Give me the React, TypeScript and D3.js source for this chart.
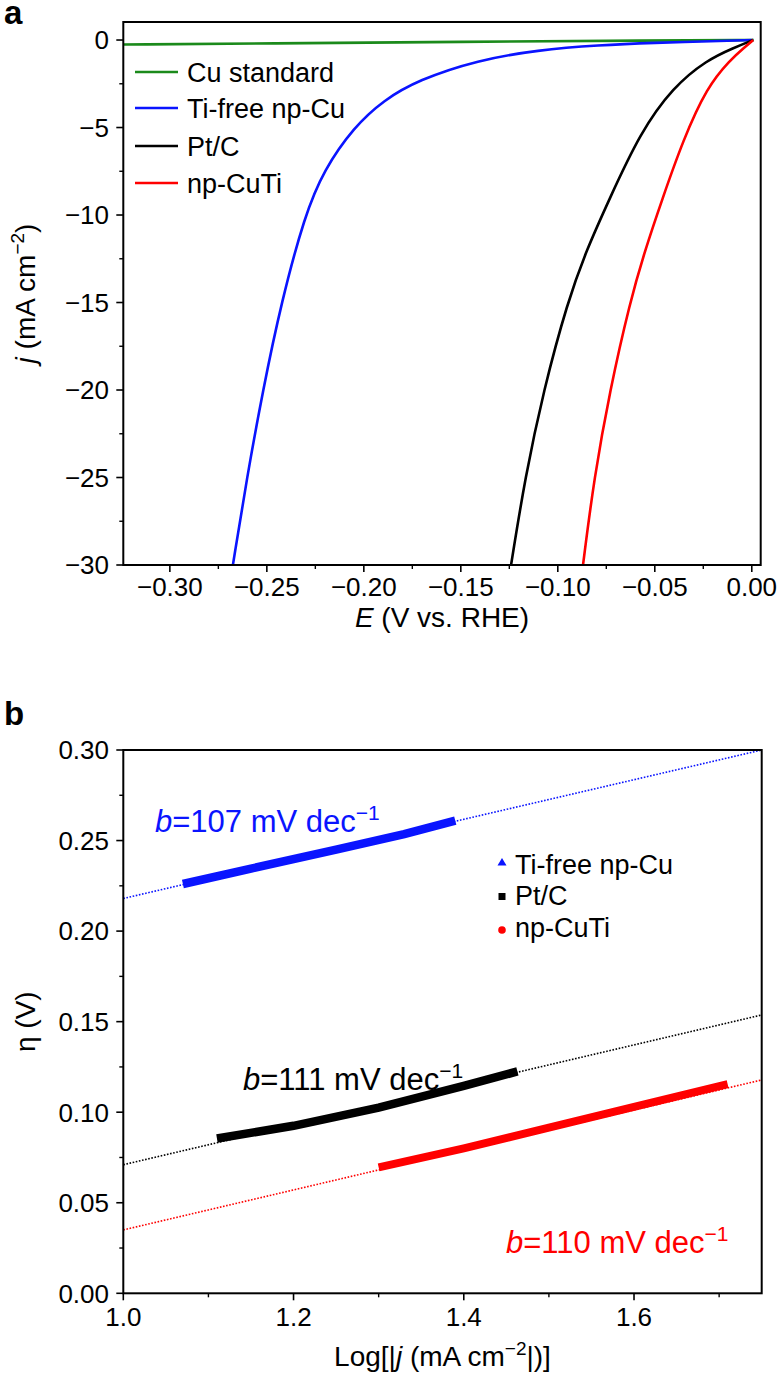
import React from 'react';
import * as d3 from 'd3';

const W = 781;
const H = 1384;
const FONT = '"Liberation Sans", Arial, Helvetica, sans-serif';

// ---------- Panel a data (E in V vs RHE, j in mA cm^-2) ----------
const cuStdE = [-0.324, -0.25, -0.15, -0.05, 0.001];
const cuStdJ = [-0.26, -0.2, -0.1, -0.03, 0];

const tiFreeE = [-0.2675, -0.2603, -0.252, -0.2425, -0.2304, -0.2206, -0.2051, -0.1897, -0.1721, -0.1412, -0.1102, -0.0793, -0.0483, -0.0267, 0.0007];
const tiFreeJ = [-30, -25.03, -20, -14.97, -10, -7.43, -4.97, -3.43, -2.29, -1.14, -0.57, -0.29, -0.15, -0.09, 0];

const ptcE = [-0.1241, -0.1169, -0.1073, -0.095, -0.0852, -0.0736, -0.0576, -0.0406, -0.0231, -0.0096, 0.0007];
const ptcJ = [-30, -25.03, -20, -14.97, -12, -9.14, -5.31, -2.69, -1.14, -0.46, 0];

const npCuTiE = [-0.087, -0.0813, -0.0731, -0.0628, -0.055, -0.0463, -0.0354, -0.0231, -0.0112, -0.0035, 0.0007];
const npCuTiJ = [-30, -25.03, -20, -14.97, -12, -9.14, -5.71, -2.69, -1.14, -0.4, 0];

const legendALabels = ['Cu standard', 'Ti-free np-Cu', 'Pt/C', 'np-CuTi'];
const legendAColors = ['#1b8a1b', '#0a14ff', '#000000', '#ff0000'];

const aXTicks = [-0.3, -0.25, -0.2, -0.15, -0.1, -0.05, 0];
const aXMinor = [-0.275, -0.225, -0.175, -0.125, -0.075, -0.025];
const aYTicks = [0, -5, -10, -15, -20, -25, -30];
const aYMinor = [-2.5, -7.5, -12.5, -17.5, -22.5, -27.5];

// ---------- Panel b data (log|j|, eta in V) ----------
const tiFreeLogJ = [1.07, 1.15, 1.25, 1.33, 1.39];
const tiFreeEta = [0.226, 0.2345, 0.245, 0.2535, 0.261];
const ptcLogJ = [1.11, 1.2, 1.3, 1.4, 1.463];
const ptcEta = [0.0855, 0.0925, 0.1025, 0.1145, 0.1225];
const npCuTiLogJ = [1.3, 1.4, 1.5, 1.6, 1.71];
const npCuTiEta = [0.0695, 0.08, 0.0915, 0.103, 0.1155];

const fitLogJ = [1.0, 1.75];
const tiFreeFit = [0.218, 0.3];
const ptcFit = [0.071, 0.1537];
const npCuTiFit = [0.035, 0.1178];

const legendBLabels = ['Ti-free np-Cu', 'Pt/C', 'np-CuTi'];
const legendBColors = ['#0a14ff', '#000000', '#ff0000'];
const slopeLabels = ['107', '111', '110'];

const bXTicks = [1.0, 1.2, 1.4, 1.6];
const bXMinor = [1.1, 1.3, 1.5, 1.7];
const bYTicks = [0, 0.05, 0.1, 0.15, 0.2, 0.25, 0.3];
const bYMinor = [0.025, 0.075, 0.125, 0.175, 0.225, 0.275];

const minus = (s: string) => s.replace('-', '\u2212');

export default function App() {
  // panel a scales
  const aL = 123.3, aR = 760.7, aT = 22, aB = 565;
  const ax = d3.scaleLinear().domain([-0.324, 0.0046]).range([aL, aR]);
  const ay = d3.scaleLinear().domain([-30, 1.03]).range([aB, aT]);
  // panel b scales
  const bL = 123.3, bR = 761.7, bT = 750, bB = 1293.3;
  const bx = d3.scaleLinear().domain([1.0, 1.75]).range([bL, bR]);
  const by = d3.scaleLinear().domain([0, 0.3]).range([bB, bT]);

  const lineA = (es: number[], js: number[]) =>
    d3.line<number>().x((_, i) => ax(es[i])).y((_, i) => ay(js[i])).curve(d3.curveBasis)(es) || '';
  const lineB = (xs: number[], ys: number[]) =>
    d3.line<number>().x((_, i) => bx(xs[i])).y((_, i) => by(ys[i]))(xs) || '';

  const aSeries = [
    { e: cuStdE, j: cuStdJ },
    { e: tiFreeE, j: tiFreeJ },
    { e: ptcE, j: ptcJ },
    { e: npCuTiE, j: npCuTiJ },
  ];
  const bSeries = [
    { x: tiFreeLogJ, y: tiFreeEta, fit: tiFreeFit, w: 8.5 },
    { x: ptcLogJ, y: ptcEta, fit: ptcFit, w: 8.5 },
    { x: npCuTiLogJ, y: npCuTiEta, fit: npCuTiFit, w: 8 },
  ];
  const slopePos = [
    { x: 155, y: 832 },
    { x: 243, y: 1090 },
    { x: 506, y: 1253 },
  ];

  const tickFs = 26;
  return (
    <svg width={W} height={H} style={{ position: 'absolute', left: 0, top: 0, background: '#fff' }} fontFamily={FONT}>
      <rect x={0} y={0} width={W} height={H} fill="#fff" />
      {/* ================= Panel a ================= */}
      <text x={4} y={24} fontSize={33} fontWeight="bold">a</text>
      <defs>
        <clipPath id="clipA"><rect x={aL} y={aT} width={aR - aL} height={aB - aT} /></clipPath>
        <clipPath id="clipB"><rect x={bL} y={bT} width={bR - bL} height={bB - bT} /></clipPath>
      </defs>
      <g clipPath="url(#clipA)">
        {aSeries.map((s, i) => (
          <path key={i} d={lineA(s.e, s.j)} fill="none" stroke={legendAColors[i]} strokeWidth={2.6} />
        ))}
      </g>
      <rect x={aL} y={aT} width={aR - aL} height={aB - aT} fill="none" stroke="#000" strokeWidth={2} />
      {aXTicks.map((t) => (
        <g key={t}>
          <line x1={ax(t)} x2={ax(t)} y1={aB} y2={aB + 7} stroke="#000" strokeWidth={1.6} />
          <text x={ax(t)} y={596} fontSize={tickFs} textAnchor="middle">{minus(t.toFixed(2))}</text>
        </g>
      ))}
      {aXMinor.map((t) => (
        <line key={t} x1={ax(t)} x2={ax(t)} y1={aB} y2={aB + 4} stroke="#000" strokeWidth={1.4} />
      ))}
      {aYTicks.map((t) => (
        <g key={t}>
          <line x1={aL - 7} x2={aL} y1={ay(t)} y2={ay(t)} stroke="#000" strokeWidth={1.6} />
          <text x={109} y={ay(t) + 9.3} fontSize={tickFs} textAnchor="end">{minus(String(t))}</text>
        </g>
      ))}
      {aYMinor.map((t) => (
        <line key={t} x1={aL - 4} x2={aL} y1={ay(t)} y2={ay(t)} stroke="#000" strokeWidth={1.4} />
      ))}
      <text x={(aL + aR) / 2} y={627} fontSize={28} textAnchor="middle">
        <tspan fontStyle="italic">E</tspan> (V vs. RHE)
      </text>
      <text transform={`translate(35,${(aT + aB) / 2}) rotate(-90)`} fontSize={28} textAnchor="middle">
        <tspan fontStyle="italic">j</tspan> (mA cm<tspan dy={-11} fontSize={19}>{'\u2212'}2</tspan><tspan dy={11}>)</tspan>
      </text>
      {legendALabels.map((lab, i) => {
        const yy = [72, 108, 146, 183][i];
        return (
          <g key={lab}>
            <line x1={135} x2={178} y1={yy} y2={yy} stroke={legendAColors[i]} strokeWidth={2.6} />
            <text x={187} y={yy + 10} fontSize={27}>{lab}</text>
          </g>
        );
      })}

      {/* ================= Panel b ================= */}
      <text x={4} y={725} fontSize={33} fontWeight="bold">b</text>
      <g clipPath="url(#clipB)">
        {bSeries.map((s, i) => (
          <path key={'f' + i} d={lineB(fitLogJ, s.fit)} fill="none" stroke={legendBColors[i]} strokeWidth={1.6} strokeDasharray="1.6,1.6" />
        ))}
        {bSeries.map((s, i) => (
          <path key={'d' + i} d={lineB(s.x, s.y)} fill="none" stroke={legendBColors[i]} strokeWidth={s.w} />
        ))}
      </g>
      <rect x={bL} y={bT} width={bR - bL} height={bB - bT} fill="none" stroke="#000" strokeWidth={2} />
      {bXTicks.map((t) => (
        <g key={t}>
          <line x1={bx(t)} x2={bx(t)} y1={bB} y2={bB + 7} stroke="#000" strokeWidth={1.6} />
          <text x={bx(t)} y={1326} fontSize={tickFs} textAnchor="middle">{t.toFixed(1)}</text>
        </g>
      ))}
      {bXMinor.map((t) => (
        <line key={t} x1={bx(t)} x2={bx(t)} y1={bB} y2={bB + 4} stroke="#000" strokeWidth={1.4} />
      ))}
      {bYTicks.map((t) => (
        <g key={t}>
          <line x1={bL - 7} x2={bL} y1={by(t)} y2={by(t)} stroke="#000" strokeWidth={1.6} />
          <text x={109} y={by(t) + 9.3} fontSize={tickFs} textAnchor="end">{t.toFixed(2)}</text>
        </g>
      ))}
      {bYMinor.map((t) => (
        <line key={t} x1={bL - 4} x2={bL} y1={by(t)} y2={by(t)} stroke="#000" strokeWidth={1.4} />
      ))}
      <text x={(bL + bR) / 2} y={1366} fontSize={28} textAnchor="middle">
        Log[|<tspan fontStyle="italic">j</tspan> (mA cm<tspan dy={-11} fontSize={19}>{'\u2212'}2</tspan><tspan dy={11}>|)]</tspan>
      </text>
      <text transform={`translate(35,${(bT + bB) / 2}) rotate(-90)`} fontSize={28} textAnchor="middle">
        η (V)
      </text>
      {slopeLabels.map((s, i) => (
        <text key={s} x={slopePos[i].x} y={slopePos[i].y} fontSize={31} fill={legendBColors[i]}>
          <tspan fontStyle="italic">b</tspan>={s} mV dec<tspan dy={-12} fontSize={21}>{'\u2212'}1</tspan>
        </text>
      ))}
      {legendBLabels.map((lab, i) => {
        const cy = [862, 896.5, 930][i];
        const ty = [873.5, 905, 937][i];
        const c = legendBColors[i];
        return (
          <g key={lab}>
            {i === 0 && <path d={`M${502 - 4.5},${cy + 3.5} L${502 + 4.5},${cy + 3.5} L502,${cy - 4} Z`} fill={c} />}
            {i === 1 && <rect x={502 - 3.5} y={cy - 3.5} width={7} height={7} fill={c} />}
            {i === 2 && <circle cx={502} cy={cy} r={3.8} fill={c} />}
            <text x={515} y={ty} fontSize={27}>{lab}</text>
          </g>
        );
      })}
    </svg>
  );
}
